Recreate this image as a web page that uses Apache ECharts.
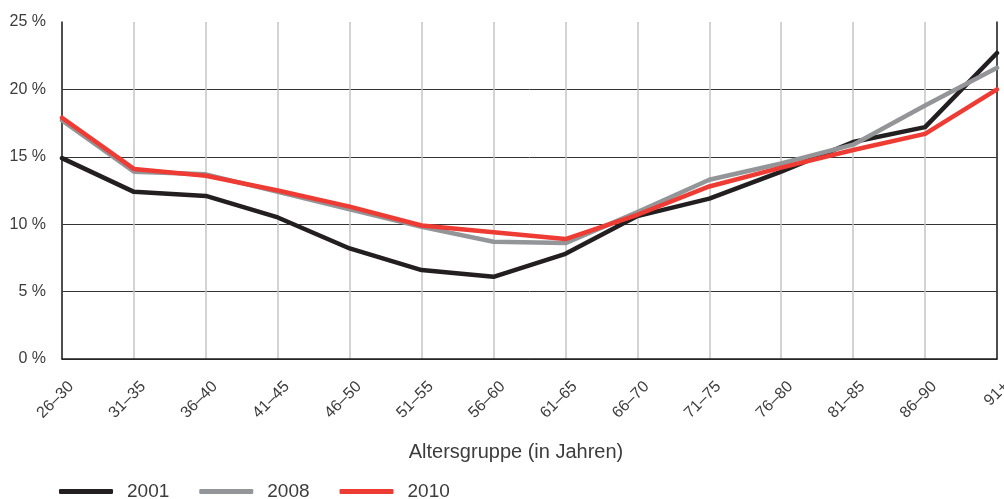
<!DOCTYPE html>
<html><head><meta charset="utf-8">
<script src="https://cdn.jsdelivr.net/npm/echarts@6/dist/echarts.min.js"></script>
<style>html,body{margin:0;padding:0;background:#fff}#c{width:1004px;height:499px}</style>
</head><body><div id="c"></div>
<script>
const categories = ['26–30','31–35','36–40','41–45','46–50','51–55','56–60','61–65','66–70','71–75','76–80','81–85','86–90','91+'];
const s2001 = [14.9,12.4,12.1,10.5,8.2,6.6,6.1,7.8,10.6,11.9,13.9,16.1,17.2,22.7];
const s2008 = [17.7,13.9,13.7,12.4,11.1,9.8,8.7,8.6,10.9,13.3,14.5,15.9,18.8,21.6];
const s2010 = [17.9,14.1,13.6,12.5,11.3,9.9,9.4,8.9,10.7,12.8,14.2,15.5,16.7,20.0];
const yTicks = [0,5,10,15,20,25];

const font = '"Liberation Sans", Arial, sans-serif';
const txt = '#3c3c3c';
const chart = echarts.init(document.getElementById('c'), null, {renderer:'canvas'});
const mk = (name, data, color, z) => ({
  name, type:'line', data, symbol:'none', z,
  lineStyle:{color, width:4.5, cap:'round', join:'round'}, itemStyle:{color}
});
chart.setOption({
  animation:false,
  grid:{left:62, right:7, top:22, bottom:140, containLabel:false, outerBoundsMode:'none'},
  legend:{
    left:54, top:477, itemWidth:54, itemHeight:5, itemGap:30, icon:'roundRect',
    textStyle:{fontFamily:font, fontSize:19, color:txt, padding:[0,0,0,9]},
    data:['2001','2008','2010']
  },
  xAxis:{
    type:'category', data:categories, boundaryGap:false,
    axisLine:{show:true, lineStyle:{color:'#222', width:1.5}},
    axisTick:{show:false},
    axisLabel:{rotate:45, margin:16, verticalAlign:'top', padding:[5,0,0,0], fontFamily:font, fontSize:16, color:txt},
    splitLine:{show:true, lineStyle:{color:'#c4c4c4', width:1.5}},
    name:'Altersgruppe (in Jahren)', nameLocation:'middle', nameGap:83,
    nameTextStyle:{fontFamily:font, fontSize:20, color:txt, padding:[0,27,0,0]}
  },
  yAxis:[{
    type:'value', min:0, max:25, interval:5,
    axisLine:{show:true, lineStyle:{color:'#222', width:1.5}},
    axisTick:{show:false},
    axisLabel:{margin:16, fontFamily:font, fontSize:16, color:txt,
      formatter:v => yTicks.includes(v) ? v + ' %' : ''},
    splitLine:{show:true, showMaxLine:false, lineStyle:{color:'#333', width:1}}
  },{
    type:'value', min:0, max:25, interval:5, position:'right',
    axisLine:{show:true, lineStyle:{color:'#222', width:1.5}},
    axisTick:{show:false}, axisLabel:{show:false}, splitLine:{show:false}
  }],
  series:[mk('2001', s2001, '#231f20', 3), mk('2008', s2008, '#939598', 4), mk('2010', s2010, '#ee3b33', 5)]
});
</script></body></html>
